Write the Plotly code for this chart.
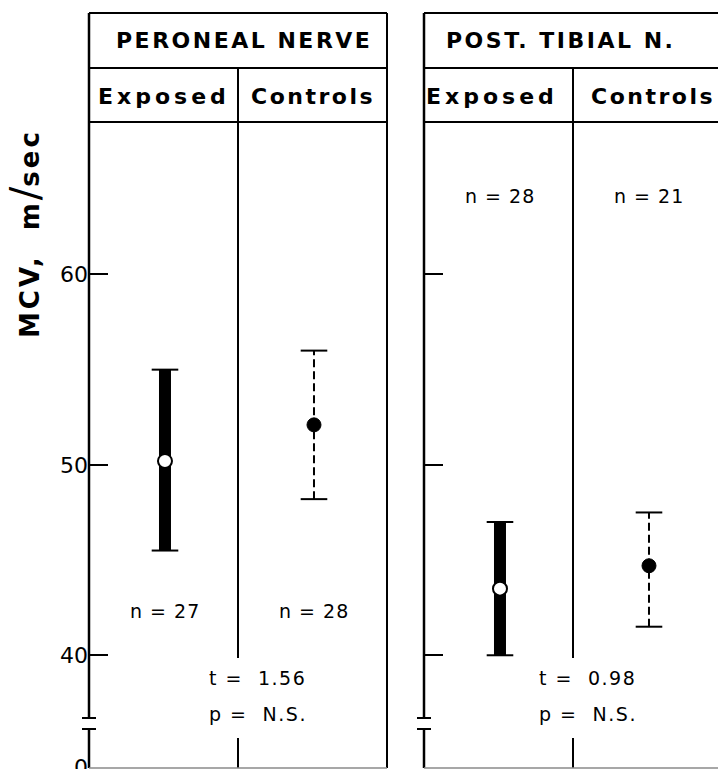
import plotly.graph_objects as go

# ---------------- data ----------------
nerves = ["PERONEAL NERVE", "POST. TIBIAL N."]
groups = ["Exposed", "Controls"]

exposed_mean = [50.2, 43.5]
exposed_upper = [55.0, 47.0]
exposed_lower = [45.5, 40.0]

control_mean = [52.1, 44.7]
control_upper = [56.0, 47.5]
control_lower = [48.2, 41.5]

exposed_n = [27, 28]
control_n = [28, 21]

t_stat = [1.56, 0.98]
p_label = ["N.S.", "N.S."]

y_ticks = [40, 50, 60]
y_ticktext = ["40", "50", "60"]
base_label = "0"          # label at the foot of the broken axis

# ---------------- geometry (pixels) ----------------
W, H = 718, 769
PLOT_L, PLOT_T, PLOT_B = 89, 13, 768
PLOT_W = W - PLOT_L
PLOT_H = PLOT_B - PLOT_T
PANEL_W = 298
PANEL_L = [89, 424]
ROW1_B = 68              # bottom of nerve title row
ROW2_B = 122             # bottom of group header row
BREAK_HI, BREAK_LO = 718, 729
GAP_HI, GAP_LO = 658, 738  # divider interrupted around the t / p text
Y_MIN, Y_MAX = 34.08, 73.73
BASE_TICK = 34.1         # where the "0" of the broken axis sits
COL_X = [0.51, 1.51]     # column centres in panel units (panel spans 0..2)

FONT = "DejaVu Sans"
INK = "black"


def fx(px):
    return (px - PLOT_L) / PLOT_W


def fy(px):
    return (PLOT_B - px) / PLOT_H


def spaced(text, sp):
    return '<span style="letter-spacing:%spx">%s</span>' % (sp, text)


fig = go.Figure()

xrefs = ["x", "x2"]
yrefs = ["y", "y2"]

for i in range(2):
    xa, ya = xrefs[i], yrefs[i]
    xe, xc = COL_X[0], COL_X[1]

    # exposed: heavy bar for the range, thin caps, open circle for the mean
    fig.add_trace(go.Scatter(
        x=[xe, xe], y=[exposed_lower[i], exposed_upper[i]], mode="lines",
        line=dict(color=INK, width=12), xaxis=xa, yaxis=ya,
        showlegend=False, hoverinfo="skip"))
    fig.add_trace(go.Scatter(
        x=[xe, xe], y=[exposed_lower[i], exposed_upper[i]], mode="markers",
        marker=dict(symbol="line-ew", size=19, line=dict(color=INK, width=2)),
        xaxis=xa, yaxis=ya, showlegend=False, hoverinfo="skip"))
    fig.add_trace(go.Scatter(
        x=[xe], y=[exposed_mean[i]], mode="markers",
        marker=dict(symbol="circle", size=14, color="white",
                    line=dict(color=INK, width=2)),
        xaxis=xa, yaxis=ya, showlegend=False, name=groups[0]))

    # controls: dashed range, thin caps, filled circle for the mean
    fig.add_trace(go.Scatter(
        x=[xc, xc], y=[control_lower[i], control_upper[i]], mode="lines",
        line=dict(color=INK, width=2, dash="8px,4px"), xaxis=xa, yaxis=ya,
        showlegend=False, hoverinfo="skip"))
    fig.add_trace(go.Scatter(
        x=[xc, xc], y=[control_lower[i], control_upper[i]], mode="markers",
        marker=dict(symbol="line-ew", size=19, line=dict(color=INK, width=2)),
        xaxis=xa, yaxis=ya, showlegend=False, hoverinfo="skip"))
    fig.add_trace(go.Scatter(
        x=[xc], y=[control_mean[i]], mode="markers",
        marker=dict(symbol="circle", size=14, color=INK,
                    line=dict(color=INK, width=1)),
        xaxis=xa, yaxis=ya, showlegend=False, name=groups[1]))

# ---------------- panel frames ----------------
shapes = []


def seg(x0, y0, x1, y1, width=2, color=INK):
    shapes.append(dict(type="line", xref="paper", yref="paper",
                       x0=x0, y0=y0, x1=x1, y1=y1,
                       line=dict(color=color, width=width)))


for pl in PANEL_L:
    pr = pl + PANEL_W
    mid = pl + PANEL_W / 2
    seg(fx(pl), 1, fx(pr), 1)
    seg(fx(pl), fy(ROW1_B), fx(pr), fy(ROW1_B))
    seg(fx(pl), fy(ROW2_B), fx(pr), fy(ROW2_B))
    # left edge doubles as the value axis, broken near the foot
    seg(fx(pl), 1, fx(pl), fy(BREAK_HI), width=2.5)
    seg(fx(pl), fy(BREAK_LO), fx(pl), 0, width=2.5)
    seg(fx(pl - 7), fy(BREAK_HI), fx(pl + 7), fy(BREAK_HI))
    seg(fx(pl - 7), fy(BREAK_LO), fx(pl + 7), fy(BREAK_LO))
    seg(fx(pr), 1, fx(pr), 0)
    # column divider
    seg(fx(mid), fy(ROW1_B), fx(mid), fy(GAP_HI))
    seg(fx(mid), fy(GAP_LO), fx(mid), 0)
    # baseline
    seg(fx(pl), 0, fx(pr), 0, width=1.5, color="#8a8a8a")

# ---------------- text ----------------
ann = []


def label(text, x, y, size, bold=False, xanchor="center", xref="paper"):
    ann.append(dict(text=text, x=x, y=y, xref=xref, yref="paper",
                    xanchor=xanchor, yanchor="middle", showarrow=False,
                    font=dict(family=FONT, size=size, color=INK,
                              weight="bold" if bold else "normal")))


title_cx = [244, 560]
group_cx = [[164, 313], [492, 653]]
for i in range(2):
    label(spaced(nerves[i], 2.5), fx(title_cx[i]), fy(41), 22, bold=True)
    label(spaced(groups[0], 4), fx(group_cx[i][0]), fy(96), 22, bold=True)
    label(spaced(groups[1], 2.5), fx(group_cx[i][1]), fy(96), 22, bold=True)

n_row = [611, 196]
for i in range(2):
    label(spaced("n = %d" % exposed_n[i], 1), COL_X[0], fy(n_row[i]), 19,
          xref=xrefs[i])
    label(spaced("n = %d" % control_n[i], 1), COL_X[1], fy(n_row[i]), 19,
          xref=xrefs[i])

stat_left = [207, 537]
for i in range(2):
    label(spaced("t =  %.2f" % t_stat[i], 1.5), fx(stat_left[i]), fy(678), 19,
          xanchor="left")
    label(spaced("p =  %s" % p_label[i], 1.5), fx(stat_left[i]), fy(714), 19,
          xanchor="left")

ann.append(dict(
    text='<span style="letter-spacing:3px">MCV,  m</span>'
         '<span style="font-size:40px;font-weight:normal">/</span>'
         '<span style="letter-spacing:3px">sec</span>',
    x=fx(25), y=fy(234), xref="paper", yref="paper", textangle=-90,
    xanchor="center", yanchor="middle", showarrow=False,
    font=dict(family=FONT, size=26, color=INK, weight="bold")))

# ---------------- axes ----------------
axis_common = dict(range=[Y_MIN, Y_MAX], showgrid=False, zeroline=False,
                   showline=False, ticks="inside", ticklen=19, tickwidth=2,
                   tickcolor=INK, fixedrange=True, ticklabeloverflow="allow",
                   automargin=False)

fig.update_layout(
    width=W, height=H,
    margin=dict(l=PLOT_L, r=0, t=PLOT_T, b=H - PLOT_B, pad=0,
                autoexpand=False),
    paper_bgcolor="white", plot_bgcolor="white",
    showlegend=False,
    shapes=shapes, annotations=ann,
    xaxis=dict(domain=[0, PANEL_W / PLOT_W], range=[0, 2], visible=False,
               fixedrange=True, automargin=False),
    xaxis2=dict(domain=[fx(PANEL_L[1]), 1],
                range=[0, 2 * (W - PANEL_L[1]) / PANEL_W], visible=False,
                fixedrange=True, anchor="y2", automargin=False),
    yaxis=dict(anchor="x", tickvals=[BASE_TICK] + y_ticks,
               ticktext=[base_label] + y_ticktext,
               tickfont=dict(family=FONT, size=22, color=INK), **axis_common),
    yaxis2=dict(anchor="x2", tickvals=y_ticks, showticklabels=False,
                **axis_common),
)

fig.write_html("out.html")
